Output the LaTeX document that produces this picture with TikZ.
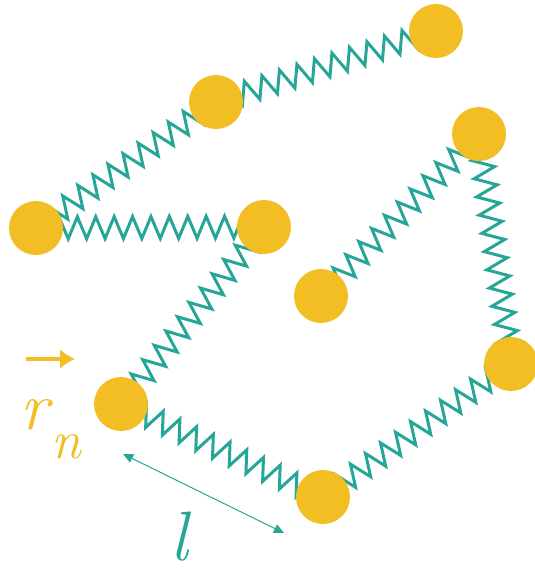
\documentclass[tikz,border=0pt]{standalone}
\usetikzlibrary{decorations.pathmorphing,arrows.meta}
\definecolor{beadorange}{RGB}{242,190,36}
\definecolor{springteal}{RGB}{38,166,150}
\tikzset{
  bead/.style={circle,fill=beadorange,inner sep=0pt,minimum size=54pt},
  spring/.style={springteal,line width=3pt,line join=miter,
    decorate,decoration={zigzag,segment length=18.4pt,amplitude=11pt}},
  lbl/.style={inner sep=0pt,anchor=base}
}
\begin{document}
\begin{tikzpicture}[x=1pt,y=-1pt]
\useasboundingbox (0,0) rectangle (535,574);
\coordinate (c1) at (436,31);
\coordinate (c2) at (216,102);
\coordinate (c3) at (36,228);
\coordinate (c4) at (264,227);
\coordinate (c5) at (479,134);
\coordinate (c6) at (321,296);
\coordinate (c7) at (121,404);
\coordinate (c8) at (511,364);
\coordinate (c9) at (323,497);
\draw[spring] (c1) -- (c2);
\draw[spring] (c2) -- (c3);
\draw[spring] (c3) -- (c4);
\draw[spring] (c4) -- (c7);
\draw[spring] (c7) -- (c9);
\draw[spring] (c9) -- (c8);
\draw[spring] (c8) -- (c5);
\draw[spring] (c5) -- (c6);
\foreach \i in {1,...,9} \node[bead] (b\i) at (c\i) {};
% position vector label
\coordinate (ra) at (26,359);
\coordinate (rb) at (75,359);
\draw[beadorange,line width=4pt,-{Latex[length=15pt,width=20pt]}] (ra) -- (rb);
\node[lbl,text=beadorange] (r) at (35,429) {\fontsize{68}{68}\selectfont\itshape r};
\node[lbl,text=beadorange] (n) at (66,458) {\fontsize{54}{54}\selectfont\itshape n};
% bond length
\coordinate (la) at (123,454);
\coordinate (lb) at (284,533);
\draw[springteal,line width=1pt,{Triangle[length=10pt,width=9pt]}-{Triangle[length=10pt,width=9pt]}] (la) -- (lb);
\node[lbl,text=springteal] (l) at (179,560) {\fontsize{70}{70}\selectfont\itshape l};
\end{tikzpicture}
\end{document}
